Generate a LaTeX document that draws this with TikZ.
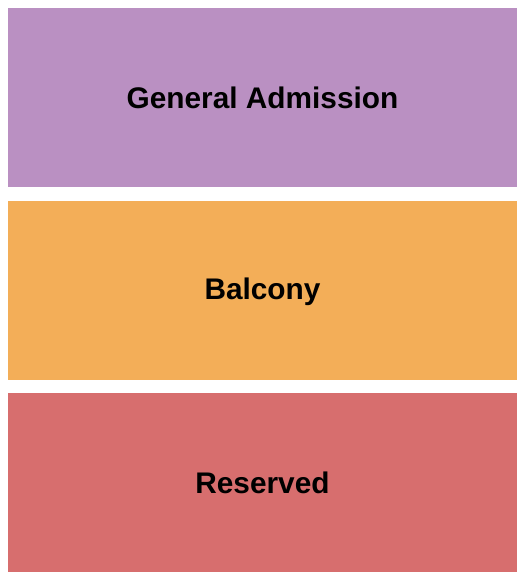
\documentclass[tikz,border=0pt]{standalone}
\usepackage{fontspec}
\setmainfont{Liberation Sans}
\definecolor{gacol}{HTML}{BA90C2}
\definecolor{balcol}{HTML}{F3AE58}
\definecolor{rescol}{HTML}{D76E6E}
\tikzset{section/.style={draw=none, minimum width=509pt, minimum height=179pt, inner sep=0pt, font=\fontsize{29.8}{34}\selectfont\bfseries, text=black}}
\begin{document}
\begin{tikzpicture}[x=1pt,y=1pt]
\useasboundingbox (0,0) rectangle (525,-580);
\node[section, fill=gacol] (ga) at (262.5,-97.5) {General Admission};
\node[section, fill=balcol] (bal) at (262.5,-290.5) {};
\node (baltext) at (262.5,-291.5) [font=\fontsize{29.8}{34}\selectfont\bfseries, inner sep=0pt] {Balcony};
\node[section, fill=rescol] (res) at (262.5,-482.5) {Reserved};
\end{tikzpicture}
\end{document}
